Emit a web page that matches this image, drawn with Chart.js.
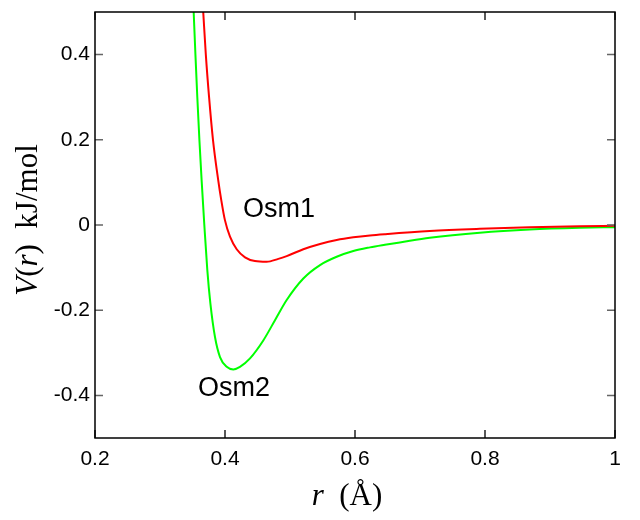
<!DOCTYPE html>
<html>
<head>
<meta charset="utf-8">
<script src="https://cdn.jsdelivr.net/npm/chart.js@4"></script>
<style>
  html, body { margin: 0; padding: 0; background: #fff; }
  #wrap { width: 640px; height: 520px; }
</style>
</head>
<body>
<div id="wrap"><canvas id="potential"></canvas></div>
<script>
// r in Angstrom, V(r) in kJ/mol
const osm1R = [0.3665, 0.3705, 0.3755, 0.3815, 0.3895, 0.3942, 0.3998, 0.4077, 0.418, 0.4308, 0.446, 0.464, 0.482, 0.4949, 0.5205, 0.5462, 0.5718, 0.5974, 0.623, 0.646, 0.715, 0.792, 0.869, 0.946, 1.0];
const osm1V = [0.50, 0.40, 0.30, 0.20, 0.106, 0.059, 0.012, -0.0275, -0.057, -0.076, -0.0847, -0.0863, -0.0795, -0.073, -0.057, -0.0447, -0.0353, -0.029, -0.0245, -0.0215, -0.014, -0.009, -0.0055, -0.003, -0.002];

const osm2R = [0.3518, 0.3545, 0.3574, 0.3606, 0.3640, 0.3682, 0.3728, 0.3775, 0.3846, 0.3923, 0.4026, 0.4128, 0.423, 0.4385, 0.4589, 0.4769, 0.4949, 0.5205, 0.5462, 0.5718, 0.5974, 0.623, 0.646, 0.669, 0.715, 0.792, 0.869, 0.946, 1.0];
const osm2V = [0.50, 0.40, 0.30, 0.20, 0.106, 0.0, -0.106, -0.184, -0.263, -0.310, -0.333, -0.339, -0.333, -0.313, -0.271, -0.2235, -0.176, -0.1255, -0.094, -0.0745, -0.061, -0.0525, -0.0465, -0.041, -0.030, -0.018, -0.0105, -0.0065, -0.005];

const xTicks = [0.2, 0.4, 0.6, 0.8, 1.0];
const xTickLabels = ["0.2", "0.4", "0.6", "0.8", "1"];
const yTicks = [-0.4, -0.2, 0, 0.2, 0.4];
const yTickLabels = ["-0.4", "-0.2", "0", "0.2", "0.4"];

const seriesNames = ["Osm1", "Osm2"];
// where the curve names sit, in data units
const nameR = [0.483, 0.414];
const nameV = [0.036, -0.384];

function toPoints(rs, vs) {
    return rs.map((r, i) => ({ x: r, y: vs[i] }));
}

function drawPieces(ctx, pieces, cx, cy) {
    let total = 0;
    pieces.forEach((p) => {
        ctx.font = p.font;
        p.w = ctx.measureText(p.text).width;
        total += p.w;
    });
    let x = cx - total / 2;
    ctx.textAlign = "left";
    ctx.textBaseline = "alphabetic";
    pieces.forEach((p) => {
        ctx.font = p.font;
        ctx.fillText(p.text, x, cy);
        x += p.w;
    });
}

const serif = "31px 'Liberation Serif', serif";
const serifIt = "italic 31px 'Liberation Serif', serif";

const framePlugin = {
    id: "frame",
    afterDatasetsDraw(chart) {
        const ctx = chart.ctx;
        const a = chart.chartArea;
        const xs = chart.scales.x;
        const ys = chart.scales.y;
        ctx.save();

        // inward ticks on all four sides
        ctx.lineWidth = 1.5;
        ctx.strokeStyle = "#222";
        xTicks.forEach((v) => {
            const px = xs.getPixelForValue(v);
            ctx.beginPath();
            ctx.moveTo(px, a.bottom);
            ctx.lineTo(px, a.bottom - 8);
            ctx.moveTo(px, a.top);
            ctx.lineTo(px, a.top + 8);
            ctx.stroke();
        });
        ctx.strokeStyle = "#666";
        yTicks.forEach((v) => {
            const py = ys.getPixelForValue(v);
            ctx.beginPath();
            ctx.moveTo(a.left, py);
            ctx.lineTo(a.left + 8, py);
            ctx.moveTo(a.right, py);
            ctx.lineTo(a.right - 8, py);
            ctx.stroke();
        });

        // box
        ctx.strokeStyle = "#000";
        ctx.lineWidth = 1.5;
        ctx.strokeRect(a.left, a.top, a.right - a.left, a.bottom - a.top);

        // curve names
        ctx.fillStyle = "#000";
        ctx.font = "27px 'Liberation Sans', Arial, sans-serif";
        ctx.textAlign = "center";
        ctx.textBaseline = "middle";
        seriesNames.forEach((n, i) => {
            ctx.fillText(n, xs.getPixelForValue(nameR[i]), ys.getPixelForValue(nameV[i]));
        });

        // axis titles
        drawPieces(ctx, [
            { text: "r", font: serifIt },
            { text: "  (Å)", font: serif },
        ], 347, 505);

        ctx.translate(37, 220);
        ctx.rotate(-Math.PI / 2);
        drawPieces(ctx, [
            { text: "V", font: serifIt },
            { text: "(", font: serif },
            { text: "r", font: serifIt },
            { text: ")  kJ/mol", font: serif },
        ], 0, 0);

        ctx.restore();
    },
};

const tickFont = { family: "'Liberation Sans', Arial, sans-serif", size: 21 };

new Chart(document.getElementById("potential"), {
    type: "line",
    data: {
        datasets: [
            {
                label: seriesNames[0],
                data: toPoints(osm1R, osm1V),
                borderColor: "#ff0000",
                borderWidth: 2,
                pointRadius: 0,
                cubicInterpolationMode: "monotone",
                fill: false,
            },
            {
                label: seriesNames[1],
                data: toPoints(osm2R, osm2V),
                borderColor: "#00ff00",
                borderWidth: 2,
                pointRadius: 0,
                cubicInterpolationMode: "monotone",
                fill: false,
            },
        ],
    },
    options: {
        responsive: true,
        maintainAspectRatio: false,
        animation: false,
        layout: {
            padding: { top: 12, right: 25, bottom: 0, left: 0 },
        },
        plugins: {
            legend: { display: false },
            tooltip: { enabled: false },
        },
        scales: {
            x: {
                type: "linear",
                min: 0.2,
                max: 1.0,
                afterBuildTicks: (scale) => {
                    scale.ticks = xTicks.map((v) => ({ value: v }));
                },
                afterFit: (scale) => {
                    scale.height = 82;
                    scale.paddingLeft = 0;
                    scale.paddingRight = 0;
                },
                ticks: {
                    padding: 9,
                    color: "#000",
                    font: tickFont,
                    maxRotation: 0,
                    callback: (v) => xTickLabels[xTicks.findIndex((t) => Math.abs(t - v) < 1e-9)],
                },
                grid: { display: false, drawTicks: false },
                border: { display: false },
            },
            y: {
                min: -0.5,
                max: 0.5,
                afterBuildTicks: (scale) => {
                    scale.ticks = yTicks.map((v) => ({ value: v }));
                },
                afterFit: (scale) => {
                    scale.width = 95;
                    scale.paddingTop = 0;
                    scale.paddingBottom = 0;
                },
                ticks: {
                    padding: 5,
                    color: "#000",
                    font: tickFont,
                    callback: (v) => yTickLabels[yTicks.findIndex((t) => Math.abs(t - v) < 1e-9)],
                },
                grid: { display: false, drawTicks: false },
                border: { display: false },
            },
        },
    },
    plugins: [framePlugin],
});
</script>
</body>
</html>
